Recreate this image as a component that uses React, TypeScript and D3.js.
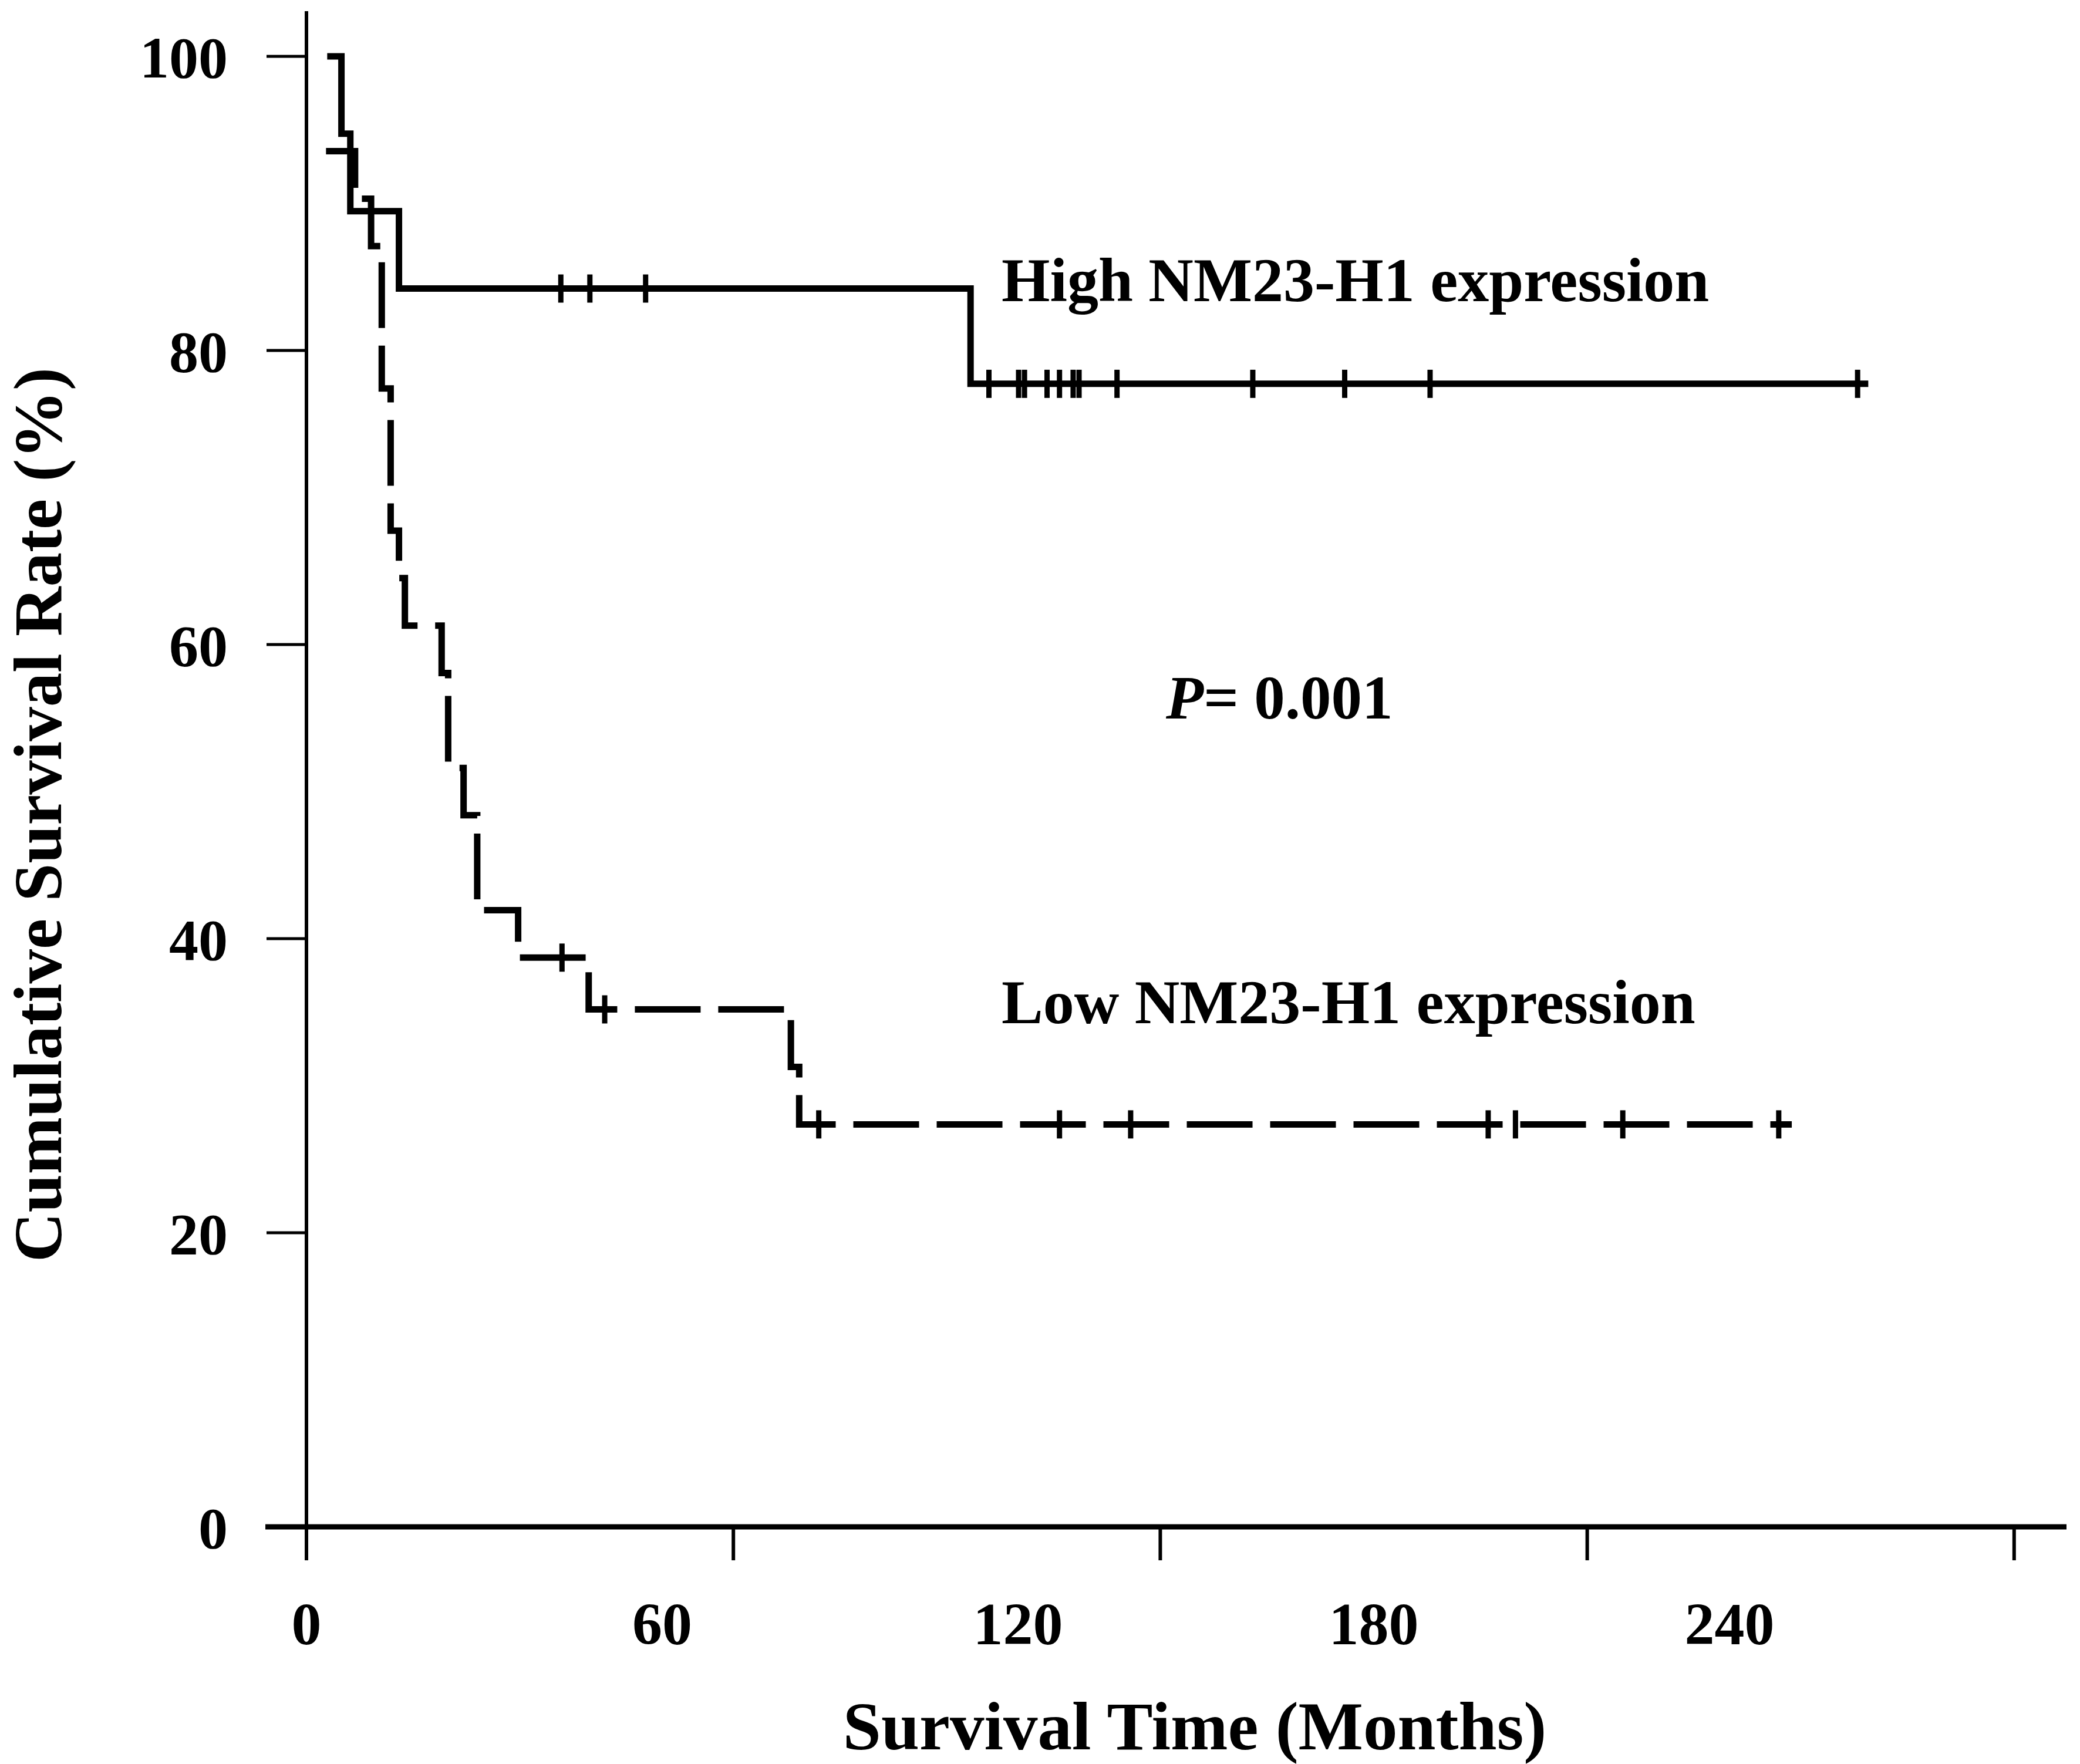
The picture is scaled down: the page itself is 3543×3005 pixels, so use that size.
import React from "react";
import * as d3 from "d3";

// ---- data (months, % survival) ----
const highTime = [3.5, 5.9, 7.4, 15.6, 112.0, 263.4];
const highSurv = [100, 94.74, 89.47, 84.21, 77.73, 77.73];
const highCensorTime = [42.9, 47.8, 57.2, 115.1, 120.1, 121.1, 124.9, 127.0, 129.3, 130.3, 136.7, 159.6, 175.1, 189.5, 261.6];

const lowTime = [3.3, 8.2, 10.9, 12.7, 14.2, 15.6, 16.6, 22.8, 23.9, 26.5, 28.8, 35.7, 47.6, 81.7, 83.1, 250.5];
const lowSurv = [93.55, 90.32, 87.1, 77.42, 67.74, 64.52, 61.29, 58.06, 51.61, 48.39, 41.94, 38.71, 35.19, 31.28, 27.37, 27.37];
const lowCensorTime = [43.1, 50.3, 86.4, 127.0, 139.0, 199.3, 203.9, 222.0, 248.3];

const xTickValues = [0, 72, 144, 216, 288];
const xLabelValues = [0, 60, 120, 180, 240];
const yTickValues = [0, 20, 40, 60, 80, 100];

const W = 3543;
const H = 3005;
const FONT = "'Liberation Serif', 'Times New Roman', Times, serif";

const x = d3.scaleLinear().domain([0, 300]).range([522, 3552]);
const y = d3.scaleLinear().domain([0, 100]).range([2601, 96]);

const line = d3
  .line<[number, number]>()
  .x((d) => x(d[0]))
  .y((d) => y(d[1]))
  .curve(d3.curveStepAfter);

function survAt(times: number[], surv: number[], t: number): number {
  let s = surv[0];
  for (let i = 0; i < times.length; i++) {
    if (times[i] <= t) s = surv[i];
  }
  return s;
}

function Curve({ times, surv, censors, dash }: { times: number[]; surv: number[]; censors: number[]; dash?: string }) {
  const pts = times.map((t, i) => [t, surv[i]] as [number, number]);
  return (
    <g>
      <path d={line(pts) || ""} fill="none" stroke="#000" strokeWidth={11} strokeDasharray={dash} strokeLinejoin="miter" />
      {censors.map((t, i) => {
        const cy = y(survAt(times, surv, t));
        return <line key={i} x1={x(t)} x2={x(t)} y1={cy - 24} y2={cy + 24} stroke="#000" strokeWidth={9} />;
      })}
    </g>
  );
}

export default function App() {
  return (
    <svg width={W} height={H} style={{ position: "absolute", left: 0, top: 0, background: "#fff" }} fontFamily={FONT}>
      <rect x={0} y={0} width={W} height={H} fill="#fff" />
      {/* axes */}
      <line x1={522} x2={522} y1={19} y2={2658} stroke="#000" strokeWidth={6} />
      <line x1={452} x2={3520} y1={y(0)} y2={y(0)} stroke="#000" strokeWidth={9} />
      {xTickValues.map((v) => (
        <line key={v} x1={x(v)} x2={x(v)} y1={y(0)} y2={2658} stroke="#000" strokeWidth={6} />
      ))}
      {yTickValues.map((v) => (
        <line key={v} x1={454} x2={522} y1={y(v)} y2={y(v)} stroke="#000" strokeWidth={5} />
      ))}
      {/* tick labels */}
      {xLabelValues.map((v) => (
        <text key={v} x={x(v)} y={2801} textAnchor="middle" fontSize={102} fontWeight="bold">
          {v}
        </text>
      ))}
      {yTickValues.map((v) => (
        <text key={v} x={388} y={y(v) + 36} textAnchor="end" fontSize={100} fontWeight="bold">
          {v}
        </text>
      ))}
      {/* axis titles */}
      <text x={2035} y={2980} textAnchor="middle" fontSize={117} fontWeight="bold">
        Survival Time (Months)
      </text>
      <text transform="translate(104,1388) rotate(-90)" textAnchor="middle" fontSize={117} fontWeight="bold">
        Cumulative Survival Rate (%)
      </text>
      {/* curves */}
      <Curve times={highTime} surv={highSurv} censors={highCensorTime} />
      <Curve times={lowTime} surv={lowSurv} censors={lowCensorTime} dash="112 30" />
      {/* annotations */}
      <text x={1706} y={513} fontSize={106} fontWeight="bold">
        High NM23-H1 expression
      </text>
      <text x={1706} y={1743} fontSize={106} fontWeight="bold">
        Low NM23-H1 expression
      </text>
      <text x={1986} y={1224} fontSize={105} fontWeight="bold">
        <tspan fontStyle="italic">P</tspan>= 0.001
      </text>
    </svg>
  );
}
